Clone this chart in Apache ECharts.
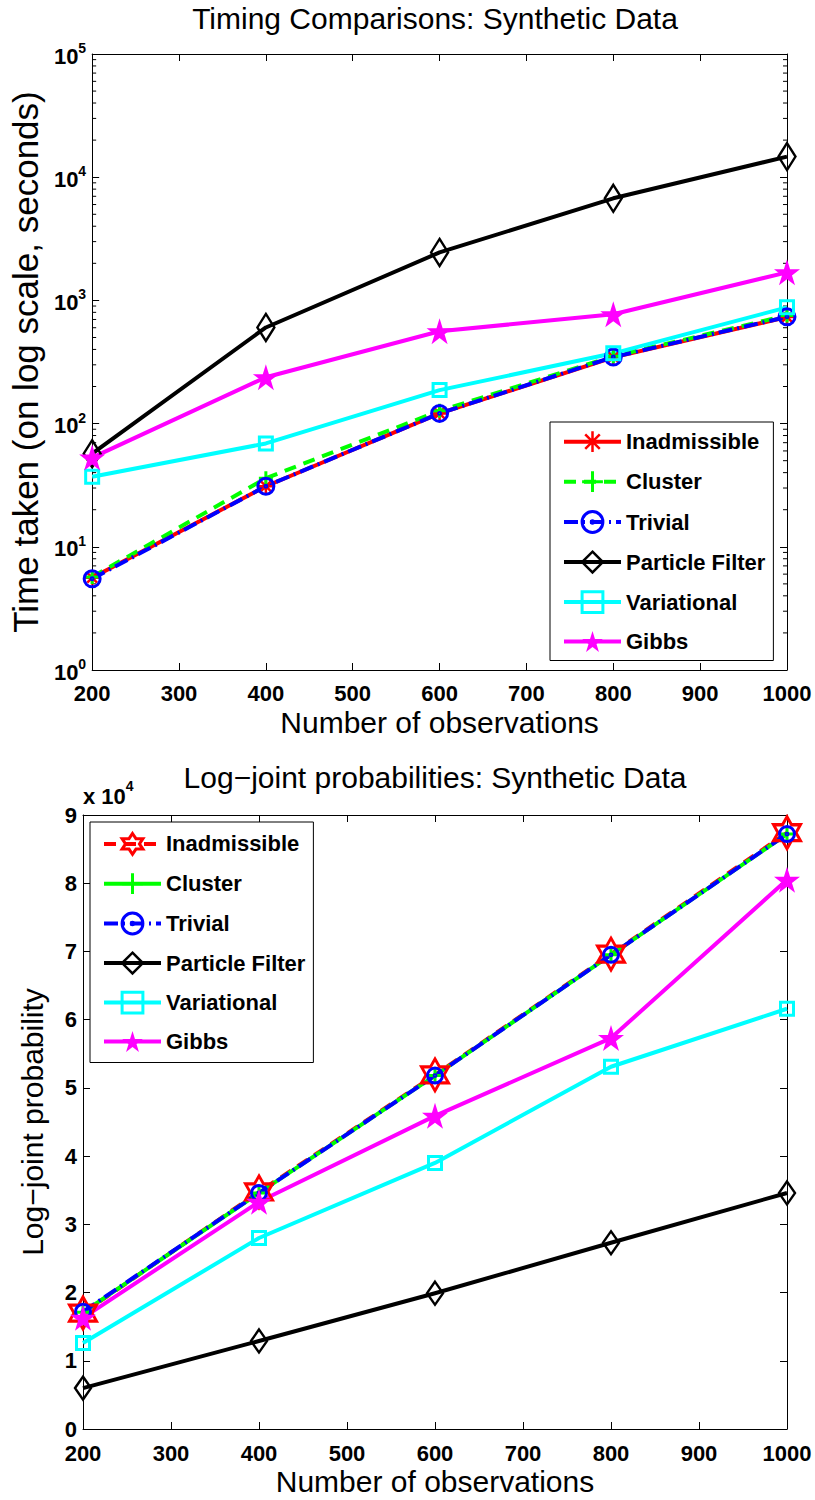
<!DOCTYPE html>
<html><head><meta charset="utf-8">
<script src="https://cdn.jsdelivr.net/npm/echarts@6/dist/echarts.min.js"></script>
<style>html,body{margin:0;padding:0;background:#fff}#c{width:815px;height:1500px}</style>
</head><body><div id="c"></div>
<script>
// ---- data ----
const observations = [200, 400, 600, 800, 1000];
const seriesNames = ['Inadmissible', 'Cluster', 'Trivial', 'Particle Filter', 'Variational', 'Gibbs'];
// timing (seconds, log scale)
const timeInadmissible   = [5.6, 31, 121, 345, 733];
const timeCluster        = [5.7, 36, 127, 352, 755];
const timeTrivial        = [5.5, 31, 121, 347, 735];
const timeParticleFilter = [57, 603, 2450, 6740, 14700];
const timeVariational    = [37, 69, 187, 372, 878];
const timeGibbs          = [53, 238, 562, 771, 1690];
// log-joint probabilities
const ljInadmissible   = [17000, 34750, 51900, 69600, 87400];
const ljCluster        = [17100, 34600, 51800, 69500, 87200];
const ljTrivial        = [17200, 34600, 51800, 69500, 87200];
const ljParticleFilter = [6000, 12900, 19900, 27300, 34600];
const ljVariational    = [12600, 28000, 39000, 53100, 61600];
const ljGibbs          = [16300, 33300, 45900, 57300, 80500];
// axis ticks
const xTickLabels = [200, 300, 400, 500, 600, 700, 800, 900, 1000];
const timeDecades = [1, 10, 100, 1000, 10000, 100000];
const ljTickLabels = [0, 1, 2, 3, 4, 5, 6, 7, 8, 9];

// ---- styling helpers ----
const FONT = '"Liberation Sans", Arial, Helvetica, sans-serif';
const RED = '#ff0000', GREEN = '#00ff00', BLUE = '#0000ff', BLACK = '#000000', CYAN = '#00ffff', MAGENTA = '#ff00ff';
const NOFILL = 'rgba(255,255,255,0)';

function starPath(n, rIn) {
  let d = '';
  for (let k = 0; k < 2 * n; k++) {
    const r = k % 2 === 0 ? 1 : rIn;
    const a = -Math.PI / 2 + k * Math.PI / n;
    d += (k === 0 ? 'M' : 'L') + (r * Math.cos(a)).toFixed(4) + ' ' + (r * Math.sin(a)).toFixed(4) + ' ';
  }
  return 'path://' + d + 'Z';
}
const STAR5 = starPath(5, 0.382);
const HEXAGRAM = starPath(6, 0.577);
const ASTERISK = 'path://M0 -1 L0 1 M-1 0 L1 0 M-0.7 -0.7 L0.7 0.7 M-0.7 0.7 L0.7 -0.7';
const PLUS = 'path://M0 -1 L0 1 M-1 0 L1 0';
const RINGDOT = 'path://M-1 0 A1 1 0 1 0 1 0 A1 1 0 1 0 -1 0 Z M-0.12 0 A0.12 0.12 0 1 0 0.12 0 A0.12 0.12 0 1 0 -0.12 0 Z';

function pairs(ys) { return observations.map((x, i) => [x, ys[i]]); }

function mk(name, ys, color, symbol, size, lineType, fill, bw, gi) {
  return {
    type: 'line', name: name, data: pairs(ys),
    xAxisIndex: gi * 2, yAxisIndex: gi * 2,
    symbol: symbol, symbolSize: size, showSymbol: true, showAllSymbol: true,
    symbolKeepAspect: false,
    lineStyle: { color: color, width: 4, type: lineType, cap: 'butt', join: 'round' },
    itemStyle: { color: fill, borderColor: color, borderWidth: bw },
    emphasis: { disabled: true },
    animation: false, z: 3, clip: false
  };
}
const ZW = '\u200b'; // distinguishes bottom-chart series names

const series = [
  mk(seriesNames[0], timeInadmissible, RED, ASTERISK, [14, 14], 'solid', NOFILL, 2.5, 0),
  mk(seriesNames[1], timeCluster, GREEN, PLUS, [14, 14], [12, 8], NOFILL, 3, 0),
  mk(seriesNames[2], timeTrivial, BLUE, RINGDOT, [16, 16], [14, 5, 2, 5], NOFILL, 3, 0),
  mk(seriesNames[3], timeParticleFilter, BLACK, 'diamond', [17, 27], 'solid', NOFILL, 2.5, 0),
  mk(seriesNames[4], timeVariational, CYAN, 'rect', [13, 13], 'solid', NOFILL, 3, 0),
  mk(seriesNames[5], timeGibbs, MAGENTA, STAR5, [26, 26], 'solid', MAGENTA, 0, 0),
  mk(seriesNames[0] + ZW, ljInadmissible, RED, HEXAGRAM, [27, 32], [12, 8], NOFILL, 3, 1),
  mk(seriesNames[1] + ZW, ljCluster, GREEN, PLUS, [14, 14], 'solid', NOFILL, 3, 1),
  mk(seriesNames[2] + ZW, ljTrivial, BLUE, RINGDOT, [15, 15], [14, 5, 2, 5], NOFILL, 3, 1),
  mk(seriesNames[3] + ZW, ljParticleFilter, BLACK, 'diamond', [16, 23], 'solid', NOFILL, 2.5, 1),
  mk(seriesNames[4] + ZW, ljVariational, CYAN, 'rect', [13, 13], 'solid', NOFILL, 3, 1),
  mk(seriesNames[5] + ZW, ljGibbs, MAGENTA, STAR5, [26, 26], 'solid', MAGENTA, 0, 1)
];

// minor ticks of the log axis (2..9 x 10^k), drawn through the axis scale
const minorTickValues = [];
for (let k = 0; k < timeDecades.length - 1; k++) {
  for (let m = 2; m <= 9; m++) minorTickValues.push(m * timeDecades[k]);
}
series.push({
  type: 'custom', xAxisIndex: 0, yAxisIndex: 0, silent: true, z: 1, clip: false,
  data: minorTickValues.map(v => [xTickLabels[0], v]),
  renderItem: function (params, api) {
    const v = api.value(1);
    const pL = api.coord([xTickLabels[0], v]);
    const pR = api.coord([xTickLabels[xTickLabels.length - 1], v]);
    return { type: 'group', children: [
      { type: 'line', shape: { x1: pL[0], y1: pL[1], x2: pL[0] + 4, y2: pL[1] }, style: { stroke: '#000', lineWidth: 1 } },
      { type: 'line', shape: { x1: pR[0] - 4, y1: pR[1], x2: pR[0], y2: pR[1] }, style: { stroke: '#000', lineWidth: 1 } }
    ] };
  }
});

const axisLine = { show: true, onZero: false, lineStyle: { color: '#000', width: 1 } };
const tick = { show: true, inside: true, length: 7, lineStyle: { color: '#000', width: 1 } };
const tickLabel = { color: '#000', fontFamily: FONT, fontWeight: 'bold', fontSize: 22, lineHeight: 18 };
const nameStyle = { color: '#000', fontFamily: FONT, fontWeight: 'normal', fontSize: 30 };

function xAxes(gi, labelMargin) {
  return [
    { gridIndex: gi, type: 'value', min: 200, max: 1000, interval: 100, position: 'bottom',
      axisLine: axisLine, axisTick: tick, splitLine: { show: false },
      axisLabel: Object.assign({ margin: labelMargin, formatter: v => String(v) }, tickLabel),
      name: 'Number of observations', nameLocation: 'middle', nameGap: 37, nameTextStyle: nameStyle },
    { gridIndex: gi, type: 'value', min: 200, max: 1000, interval: 100, position: 'top',
      axisLine: axisLine, axisTick: tick, splitLine: { show: false }, axisLabel: { show: false } }
  ];
}

const option = {
  animation: false,
  backgroundColor: '#fff',
  title: [
    { text: 'Timing Comparisons: Synthetic Data', left: 435, top: 3, textAlign: 'center', padding: 0,
      textStyle: { fontFamily: FONT, fontSize: 30, fontWeight: 'normal', color: '#000' } },
    { text: 'Log\u2212joint probabilities: Synthetic Data', left: 435, top: 762, textAlign: 'center', padding: 0,
      textStyle: { fontFamily: FONT, fontSize: 30, fontWeight: 'normal', color: '#000' } }
  ],
  grid: [
    { left: 83, top: 54, width: 704, height: 616 },
    { left: 83, top: 815, width: 704, height: 614 }
  ],
  xAxis: xAxes(0, 14).concat(xAxes(1, 15)),
  yAxis: [
    { gridIndex: 0, type: 'log', logBase: 10, min: timeDecades[0], max: timeDecades[timeDecades.length - 1], position: 'left',
      axisLine: axisLine, axisTick: tick, splitLine: { show: false }, minorTick: { show: false },
      axisLabel: { margin: 6, formatter: v => '{a|10}{b|' + Math.round(Math.log10(v)) + '}',
        rich: { a: { fontFamily: FONT, fontWeight: 'bold', fontSize: 22, color: '#000', verticalAlign: 'bottom', lineHeight: 26 },
                b: { fontFamily: FONT, fontWeight: 'bold', fontSize: 14, color: '#000', verticalAlign: 'top', lineHeight: 26 } } },
      name: 'Time taken (on log scale, seconds)', nameLocation: 'middle', nameGap: 34, nameRotate: 90,
      nameTextStyle: Object.assign({}, nameStyle, { fontSize: 35 }) },
    { gridIndex: 0, type: 'log', logBase: 10, min: timeDecades[0], max: timeDecades[timeDecades.length - 1], position: 'right',
      axisLine: axisLine, axisTick: tick, splitLine: { show: false }, axisLabel: { show: false } },
    { gridIndex: 1, type: 'value', min: 0, max: 90000, interval: 10000, position: 'left',
      axisLine: axisLine, axisTick: tick, splitLine: { show: false },
      axisLabel: Object.assign({ margin: 6, formatter: v => String(v / 10000) }, tickLabel),
      name: 'Log\u2212joint probability', nameLocation: 'middle', nameGap: 36, nameRotate: 90, nameTextStyle: nameStyle },
    { gridIndex: 1, type: 'value', min: 0, max: 90000, interval: 10000, position: 'right',
      axisLine: axisLine, axisTick: tick, splitLine: { show: false }, axisLabel: { show: false } }
  ],
  legend: [
    { data: seriesNames, orient: 'vertical', left: 550, top: 422, padding: [8, 8, 8, 12],
      itemWidth: 57, itemHeight: 26, itemGap: 16.5, backgroundColor: '#fff', borderColor: '#000', borderWidth: 1,
      borderRadius: 0, selectedMode: false,
      textStyle: { fontFamily: FONT, fontWeight: 'bold', fontSize: 22, color: '#000' },
      lineStyle: { width: 4 }, itemStyle: { borderWidth: 'inherit' } },
    { data: seriesNames.map(n => n + ZW), orient: 'vertical', left: 90, top: 822, padding: [10, 8, 10, 12],
      itemWidth: 57, itemHeight: 26, itemGap: 16, backgroundColor: '#fff', borderColor: '#000', borderWidth: 1,
      borderRadius: 0, selectedMode: false,
      formatter: n => n.replace(/\u200b/g, ''),
      textStyle: { fontFamily: FONT, fontWeight: 'bold', fontSize: 22, color: '#000' },
      lineStyle: { width: 4 }, itemStyle: { borderWidth: 'inherit' } }
  ],
  graphic: [
    { type: 'text', left: 83, top: 779, silent: true,
      style: { text: '{a|x 10}{b|4}',
        rich: { a: { fontFamily: FONT, fontWeight: 'bold', fontSize: 22, fill: '#000', verticalAlign: 'bottom', lineHeight: 28 },
                b: { fontFamily: FONT, fontWeight: 'bold', fontSize: 14, fill: '#000', verticalAlign: 'top', lineHeight: 28 } } } }
  ],
  series: series
};

const chart = echarts.init(document.getElementById('c'), null, { renderer: 'svg' });
chart.setOption(option);
</script>
</body></html>
